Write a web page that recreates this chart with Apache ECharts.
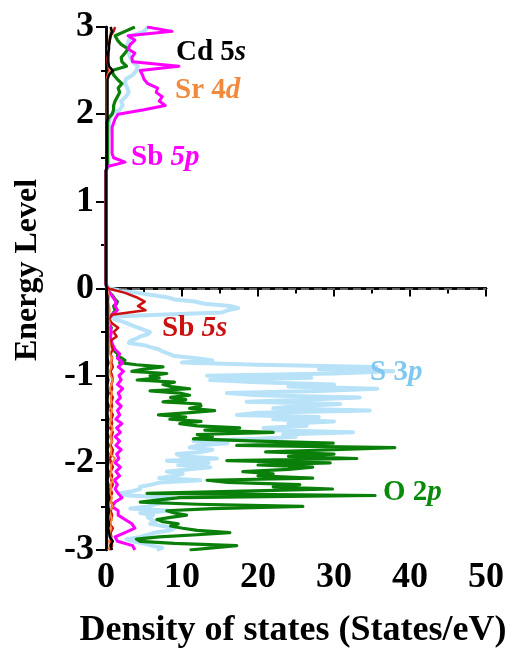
<!DOCTYPE html>
<html><head><meta charset="utf-8">
<script src="https://cdn.jsdelivr.net/npm/echarts@6/dist/echarts.min.js"></script>
<style>html,body{margin:0;padding:0;background:#fff}#c{width:512px;height:648px}</style>
</head><body><div id="c"></div>
<script>
// coarse energy grid (eV) for the small partial DOS curves
const energy = [
-3.00,-2.95,-2.90,-2.85,-2.80,-2.75,-2.70,-2.65,-2.60,-2.55,
-2.50,-2.45,-2.40,-2.35,-2.30,-2.25,-2.20,-2.15,-2.10,-2.05,
-2.00,-1.95,-1.90,-1.85,-1.80,-1.75,-1.70,-1.65,-1.60,-1.55,
-1.50,-1.45,-1.40,-1.35,-1.30,-1.25,-1.20,-1.15,-1.10,-1.05,
-1.00,-0.95,-0.90,-0.85,-0.80,-0.75,-0.70,-0.65,-0.60,-0.55,
-0.50,-0.45,-0.40,-0.35,-0.30,-0.25,-0.20,-0.15,-0.10,-0.05,
0.00,
0.05,1.35,
1.40,1.45,1.50,1.55,1.60,1.65,1.70,1.75,1.80,1.85,
1.90,1.95,2.00,2.05,2.10,2.15,2.20,2.25,2.30,2.35,
2.40,2.45,2.50,2.55,2.60,2.65,2.70,2.75,2.80,2.85,
2.90,2.95,3.00];

// finer energy grid for the two large curves (S 3p, O 2p)
const energyFine = [
-3.000,-2.975,-2.950,-2.925,-2.900,-2.875,-2.850,-2.825,
-2.800,-2.775,-2.750,-2.725,-2.700,-2.675,-2.650,-2.625,
-2.600,-2.575,-2.550,-2.525,-2.500,-2.475,-2.450,-2.425,
-2.400,-2.375,-2.350,-2.325,-2.300,-2.275,-2.250,-2.225,
-2.200,-2.175,-2.150,-2.125,-2.100,-2.075,-2.050,-2.025,
-2.000,-1.975,-1.950,-1.925,-1.900,-1.875,-1.850,-1.825,
-1.800,-1.775,-1.750,-1.725,-1.700,-1.675,-1.650,-1.625,
-1.600,-1.575,-1.550,-1.525,-1.500,-1.475,-1.450,-1.425,
-1.400,-1.375,-1.350,-1.325,-1.300,-1.275,-1.250,-1.225,
-1.200,-1.175,-1.150,-1.125,-1.100,-1.075,-1.050,-1.025,
-1.000,-0.975,-0.950,-0.925,-0.900,-0.875,-0.850,-0.825,
-0.800,-0.775,-0.750,-0.725,-0.700,-0.675,-0.650,-0.625,
-0.600,-0.575,-0.550,-0.525,-0.500,-0.475,-0.450,-0.425,
-0.400,-0.375,-0.350,-0.325,-0.300,-0.275,-0.250,-0.225,
-0.200,-0.175,-0.150,-0.125,-0.100,-0.075,-0.050,-0.025,
0.000,
0.05,1.35,
1.40,1.45,1.50,1.55,1.60,1.65,1.70,1.75,1.80,1.85,
1.90,1.95,2.00,2.05,2.10,2.15,2.20,2.25,2.30,2.35,
2.40,2.45,2.50,2.55,2.60,2.65,2.70,2.75,2.80,2.85,
2.90,2.95,3.00];

const s3p = [
6.7,7.4,6.0,5.0,3.5,2.7,4.5,5.5,
6.5,8.5,9.0,7.5,5.8,6.5,6.0,5.5,
6.2,4.5,8.4,3.2,5.5,6.5,8.0,7.0,
8.8,3.0,1.8,3.5,4.5,4.5,6.0,7.1,
12.4,7.0,9.0,10.1,8.0,11.0,13.7,9.5,
13.5,8.0,14.6,10.0,9.3,12.5,14.0,11.0,
12.0,16.0,11.5,20.0,25.0,23.3,32.5,22.0,
20.7,26.4,24.0,30.0,22.0,28.0,17.2,20.0,
34.7,22.0,25.0,30.8,18.5,26.0,33.4,20.0,
15.9,28.0,35.7,24.0,30.0,20.0,13.7,27.0,
13.3,30.0,37.8,28.0,35.6,20.0,10.0,14.0,
12.0,9.0,8.3,7.5,7.0,6.0,5.0,3.0,
3.2,4.0,4.5,5.5,5.8,5.0,4.2,3.5,
2.8,2.0,1.0,0.3,7.0,15.3,16.0,17.4,
16.3,13.0,11.7,9.0,8.0,6.0,4.2,2.0,
0.5,
0,0,
0.3,0.3,0.3,0.3,0.3,0.3,0.3,0.3,0.4,0.4,
0.4,0.5,0.8,1.8,2.2,2.0,2.6,3.0,2.8,2.5,
2.6,3.5,4.0,4.2,3.5,3.2,3.0,3.0,2.8,3.0,
3.5,5.0,5.5];

const o2p = [
11.0,14.0,17.2,9.0,4.5,4.0,7.0,12.0,
16.3,12.0,10.1,8.5,9.5,7.5,6.7,8.5,
10.6,9.0,8.0,14.0,25.9,12.0,4.5,7.0,
9.7,35.4,5.4,18.0,29.8,22.0,25.5,16.0,
13.3,27.2,20.0,22.0,18.0,24.0,27.2,20.0,
29.5,15.9,33.0,24.0,30.0,21.0,30.0,38.0,
17.2,29.9,20.0,11.5,14.0,12.0,22.0,13.0,
17.6,12.0,9.7,12.5,8.4,10.5,6.9,11.0,
14.3,11.0,12.5,12.4,7.5,10.5,8.5,11.0,
9.7,5.8,11.0,8.5,7.5,9.0,4.1,7.0,
5.8,8.0,3.4,5.0,7.5,4.0,1.8,2.5,
2.1,1.5,1.6,1.2,1.0,0.9,0.8,0.6,
0.6,0.5,0.5,0.6,0.5,0.6,0.7,0.5,
0.4,0.3,0.3,0.5,0.8,1.0,1.2,1.1,
1.0,1.4,1.5,1.2,1.0,0.8,0.5,0.3,
0.1,
0,0,
0.2,0.2,0.2,0.2,0.2,0.2,0.2,0.2,0.2,0.2,
0.2,0.3,0.8,1.0,1.0,1.2,1.5,1.8,1.6,2.1,
1.5,1.0,0.8,2.7,2.1,2.0,2.5,2.9,2.0,1.5,
1.2,2.5,3.8];

const sb5s = [
0.4,0.8,0.5,0.7,0.6,0.9,0.5,0.7,0.8,0.6,
0.9,0.7,0.5,0.8,0.6,0.9,0.7,0.8,0.6,0.9,
0.7,0.5,0.8,0.9,0.6,0.8,0.7,0.9,0.6,0.8,
0.7,0.9,0.6,0.8,0.7,0.9,0.6,0.8,0.7,0.9,
0.8,0.6,0.9,0.7,0.8,0.6,0.9,0.7,0.6,1.4,
1.0,1.6,0.8,0.4,0.8,5.2,4.2,5.1,4.0,2.5,
0.3,
0,0,
0.1,0.1,0.1,0.1,0.1,0.1,0.1,0.1,0.1,0.1,
0.1,0.1,0.1,0.1,0.1,0.1,0.1,0.1,0.1,0.1,
0.1,0.2,0.4,0.3,0.2,0.2,0.3,0.3,0.4,0.5,
0.6,1.0,1.2];

const sb5p = [
3.8,3.5,1.5,1.2,2.5,3.8,3.4,2.5,1.6,1.6,
0.8,1.2,2.1,1.6,1.2,1.5,1.1,1.8,1.3,1.9,
1.2,1.7,1.4,2.0,1.3,1.8,1.2,1.9,1.4,2.1,
1.3,1.8,1.5,2.0,1.4,1.9,1.6,2.2,1.5,2.0,
1.7,2.3,1.6,2.2,1.5,1.8,1.2,0.9,0.7,0.6,
0.7,0.6,0.5,0.4,0.8,1.5,1.2,1.3,0.9,0.5,
0.1,
0,0,
0.2,2.5,1.0,0.8,0.8,0.8,0.8,0.8,0.8,0.8,
1.0,1.2,1.6,5.0,7.8,7.0,7.4,6.6,6.8,5.5,
5.0,4.8,4.5,9.6,3.5,3.4,3.8,2.9,3.2,3.8,
2.9,8.7,5.4];

const sr4d = [
0.3,0.5,0.4,0.6,0.5,0.7,0.5,0.8,0.6,0.5,
0.9,0.6,0.8,0.5,0.7,0.6,0.9,0.5,0.7,0.6,
0.8,1.2,0.6,0.7,0.5,0.8,0.6,0.7,0.9,0.5,
0.7,0.6,0.8,0.5,0.7,0.6,0.8,0.5,0.7,0.9,
0.6,0.5,0.7,0.6,0.8,0.5,0.4,0.5,0.4,0.3,
0.4,0.3,0.5,0.3,0.4,0.5,0.4,0.3,0.4,0.3,
0.1,
0,0,
0.1,0.1,0.1,0.1,0.1,0.1,0.1,0.1,0.1,0.1,
0.1,0.1,0.1,0.1,0.1,0.1,0.1,0.1,0.1,0.1,
0.1,0.3,0.5,0.4,0.3,0.3,0.4,0.3,0.4,0.4,
0.5,0.6,0.7];

const cd5s = [
0.8,0.6,0.9,0.5,0.4,0.3,0.4,0.3,0.3,0.4,
0.3,0.3,0.4,0.3,0.3,0.3,0.2,0.3,0.3,0.2,
0.3,0.2,0.3,0.2,0.3,0.2,0.3,0.2,0.3,0.2,
0.3,0.2,0.2,0.3,0.2,0.2,0.3,0.2,0.2,0.3,
0.2,0.2,0.2,0.3,0.2,0.2,0.2,0.2,0.2,0.2,
0.2,0.2,0.2,0.2,0.2,0.2,0.2,0.2,0.2,0.1,
0.1,
0,0,
0.1,0.1,0.1,0.1,0.1,0.1,0.1,0.1,0.1,0.1,
0.1,0.2,0.2,0.2,0.2,0.2,0.2,0.2,0.2,0.2,
0.2,0.4,0.9,0.4,0.3,0.3,0.3,0.4,0.4,0.5,
0.6,0.8,0.6];

const seriesNames = ['S 3p','O 2p','Sb 5p','Sb 5s','Sr 4d','Cd 5s'];
const seriesValues = [s3p, o2p, sb5p, sb5s, sr4d, cd5s];
const seriesEnergy = [energyFine, energyFine, energy, energy, energy, energy];
const seriesColors = ['#b8e2f8','#0a800a','#ff00ff','#cc1010','#f28c3a','#000000'];
const seriesWidths = [4, 3.2, 3, 2.5, 2, 2.5];
const xTicks = {min: 0, max: 50, interval: 10};
const yTicks = {min: -3, max: 3, interval: 1};

const FONT = '"Liberation Serif", "Times New Roman", serif';
const chart = echarts.init(document.getElementById('c'), null, {renderer: 'canvas'});

const series = seriesNames.map((n, k) => ({
  name: n, type: 'line', showSymbol: false, symbol: 'none', animation: false,
  xAxisIndex: 0, yAxisIndex: 0, clip: true,
  lineStyle: {color: seriesColors[k], width: seriesWidths[k], join: 'round'},
  data: seriesEnergy[k].map((e, i) => [seriesValues[k][i], e]),
  z: 2 + k
}));
series[0].markLine = {
  silent: true, symbol: 'none', animation: false,
  label: {show: false},
  lineStyle: {color: '#808080', type: [8, 5], width: 1.5},
  data: [{yAxis: 0}]
};

function richLabel(main, ital, color, x, y) {
  return {
    type: 'text', x: x, y: y, z: 100,
    style: {
      text: '{a|' + main + '}{b|' + ital + '}',
      verticalAlign: 'middle',
      rich: {
        a: {fontFamily: FONT, fontWeight: 'bold', fontSize: 29, fill: color, color: color},
        b: {fontFamily: FONT, fontWeight: 'bold', fontStyle: 'italic', fontSize: 29, fill: color, color: color}
      }
    }
  };
}

const axisCommon = {
  axisLine: {show: true, lineStyle: {color: '#000', width: 2.5}},
  splitLine: {show: false}
};

chart.setOption({
  animation: false,
  backgroundColor: '#fff',
  grid: {left: 106, right: 26, top: 27, bottom: 98, containLabel: false, outerBoundsMode: 'none'},
  xAxis: [
    Object.assign({}, axisCommon, {
      type: 'value', position: 'bottom', min: xTicks.min, max: xTicks.max, interval: xTicks.interval,
      axisTick: {show: true, inside: false, length: 8, lineStyle: {color: '#000', width: 2}},
      minorTick: {show: true, splitNumber: 2, length: 5, lineStyle: {color: '#000', width: 2}},
      axisLabel: {fontFamily: FONT, fontWeight: 'bold', fontSize: 36, color: '#000', margin: 10},
      name: 'Density of states (States/eV)', nameLocation: 'middle', nameGap: 63,
      nameTextStyle: {fontFamily: FONT, fontWeight: 'bold', fontSize: 36, color: '#000', padding: [0, 6, 0, 0]}
    }),
    Object.assign({}, axisCommon, {
      type: 'value', position: 'top', min: xTicks.min, max: xTicks.max, interval: xTicks.interval,
      axisTick: {show: false}, axisLabel: {show: false}
    })
  ],
  yAxis: [
    Object.assign({}, axisCommon, {
      type: 'value', position: 'left', min: yTicks.min, max: yTicks.max, interval: yTicks.interval,
      axisTick: {show: true, inside: false, length: 10, lineStyle: {color: '#000', width: 2}},
      minorTick: {show: true, splitNumber: 2, length: 5, lineStyle: {color: '#000', width: 2}},
      axisLabel: {fontFamily: FONT, fontWeight: 'bold', fontSize: 36, color: '#000', margin: 12}
    }),
    Object.assign({}, axisCommon, {
      type: 'value', position: 'right', min: yTicks.min, max: yTicks.max, interval: yTicks.interval,
      axisTick: {show: false}, axisLabel: {show: false}
    })
  ],
  series: series,
  graphic: [
    {
      type: 'text', x: 28, y: 270, rotation: Math.PI / 2, z: 100,
      style: {text: 'Energy Level', align: 'center', verticalAlign: 'middle',
        fontFamily: FONT, fontWeight: 'bold', fontSize: 32, fill: '#000'}
    },
    richLabel('Cd 5', 's', '#000000', 176, 53),
    richLabel('Sr 4', 'd', '#f08a3c', 175, 91),
    richLabel('Sb ', '5p', '#ff00ff', 131, 158),
    richLabel('Sb ', '5s', '#cc1010', 162, 329),
    richLabel('S 3', 'p', '#80c8f0', 370, 373),
    richLabel('O 2', 'p', '#0a8a0a', 383, 493)
  ]
});
</script></body></html>
